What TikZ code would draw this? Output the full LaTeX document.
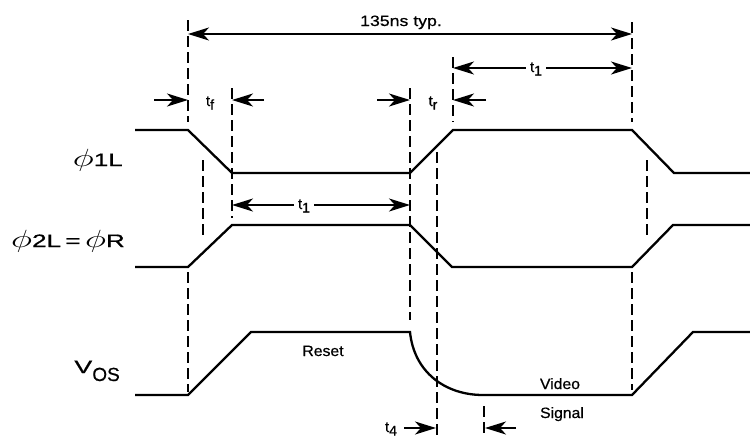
\documentclass[tikz,border=0pt]{standalone}
\usepackage{fontspec}
\usepackage{graphicx}
\setmainfont{Liberation Sans}[FakeBold=0.6]
\usetikzlibrary{arrows.meta}
\newcommand{\bphi}{{\fontsize{23}{23}\selectfont$\phi$}}
\newcommand{\sbs}[1]{\raisebox{-3.5pt}{\fontsize{14}{14}\selectfont #1}}
\begin{document}
\begin{tikzpicture}[x=1pt,y=-1pt,
  wave/.style={line width=2.3pt, line join=miter},
  vdash/.style={line width=2.3pt, dash pattern=on 11pt off 5pt},
  tip/.tip={Stealth[length=21pt,width=13pt,inset=6pt]},
  dim/.style={line width=1.9pt, -tip},
  dimboth/.style={line width=1.9pt, tip-tip},
  small/.style={font=\fontsize{15}{17}\selectfont, inner sep=0pt},
  big/.style={font=\fontsize{18}{20}\selectfont, inner sep=0pt}]
\useasboundingbox (0,0) rectangle (750,437);
\clip (0,0) rectangle (750,437);

% waveforms
\draw[wave] (135,130) -- (188,130) -- (232,173) -- (410,173) -- (453,130) -- (632,130) -- (674,173) -- (750,173);
\draw[wave] (135,267) -- (188,267) -- (232,225) -- (410,225) -- (452,267) -- (632,267) -- (673,225) -- (750,225);
\draw[wave] (135,395) -- (188,395) -- (251,332) -- (410,332) .. controls (414,372) and (445,395) .. (483,395) -- (632,395) -- (693,332) -- (750,332);

% dashed verticals
\draw[vdash] (188,20) -- (188,122);
\draw[vdash] (188,272) -- (188,392);
\draw[vdash] (203,160) -- (203,238);
\draw[vdash] (232,88) -- (232,218);
\draw[vdash] (410,88) -- (410,320);
\draw[vdash] (437,152) -- (437,437);
\draw[vdash] (453,57) -- (453,122);
\draw[vdash] (632,22) -- (632,122);
\draw[vdash] (647,160) -- (647,237);
\draw[vdash] (632,272) -- (632,390);
\draw[vdash] (484,406) -- (484,437);

% signal labels
\node[big, anchor=base east] (l1) at (123,166) {\scalebox{1.45}[1]{\bphi 1L}};
\node[big, anchor=base east] (l2) at (125,247) {\scalebox{1.45}[1]{\bphi 2L\,=\,\bphi R}};
\node[big, anchor=base east] (l3) at (120,373) {\scalebox{1.5}[1]{V}\raisebox{-8pt}{\fontsize{19}{19}\selectfont OS}};

% 135ns
\coordinate (a1) at (188,34);
\coordinate (a2) at (632,34);
\draw[dimboth] (a1) -- (a2);
\node[small, anchor=base] (n135) at (401,26) {\scalebox{1.18}[1]{135ns typ.}};

% t1 top
\coordinate (b1) at (453,68);
\coordinate (b2) at (632,68);
\node[small, anchor=base, inner xsep=4pt] (t1a) at (536,72) {t\sbs{1}};
\draw[dim] (t1a.west |- b1) -- (b1);
\draw[dim] (t1a.east |- b2) -- (b2);

% tf
\coordinate (c1) at (154,100);
\coordinate (c2) at (188,100);
\coordinate (c3) at (264,100);
\coordinate (c4) at (232,100);
\draw[dim] (c1) -- (c2);
\draw[dim] (c3) -- (c4);
\node[small, anchor=base] (tf) at (210,106) {t\sbs{f}};

% tr
\coordinate (d1) at (377,100);
\coordinate (d2) at (410,100);
\coordinate (d3) at (486,100);
\coordinate (d4) at (453,100);
\draw[dim] (d1) -- (d2);
\draw[dim] (d3) -- (d4);
\node[small, anchor=base] (tr) at (433,106) {t\sbs{r}};

% t1 middle
\coordinate (e1) at (232,205);
\coordinate (e2) at (410,205);
\node[small, anchor=base, inner xsep=4pt] (t1b) at (304,209) {t\sbs{1}};
\draw[dim] (t1b.west |- e1) -- (e1);
\draw[dim] (t1b.east |- e2) -- (e2);

% t4
\coordinate (f1) at (404,428);
\coordinate (f2) at (436,428);
\coordinate (f3) at (516,428);
\coordinate (f4) at (485,428);
\draw[dim] (f1) -- (f2);
\draw[dim] (f3) -- (f4);
\node[small, anchor=base] (t4) at (391,432) {t\sbs{4}};

% VOS texts
\node[small, anchor=base] (reset) at (323,356) {\scalebox{1.05}[1]{Reset}};
\node[small, anchor=base] (video) at (560,389) {\scalebox{1.05}[1]{Video}};
\node[small, anchor=base] (signal) at (562,418) {\scalebox{1.05}[1]{Signal}};
\end{tikzpicture}
\end{document}
